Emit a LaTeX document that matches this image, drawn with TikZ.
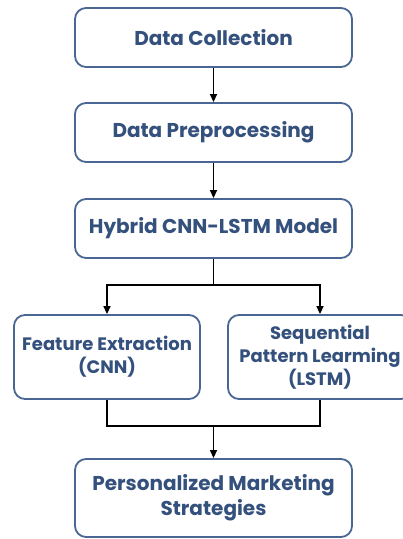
\documentclass[tikz,border=0pt]{standalone}
\usepackage{fontspec}
\setmainfont{Poppins}
\usetikzlibrary{arrows.meta}
\definecolor{boxblue}{HTML}{4A6793}
\definecolor{textblue}{HTML}{34507C}
\begin{document}
\begin{tikzpicture}[x=1pt,y=-1pt,
    stage/.style={draw=boxblue,line width=1.8pt,rounded corners=11pt,fill=white,
      minimum width=277pt,minimum height=59pt,align=center,text=textblue,
      font=\fontsize{20}{25}\selectfont\bfseries},
    branch/.style={stage,minimum width=186pt,minimum height=84pt,
      font=\fontsize{18}{23}\selectfont\bfseries},
    wire/.style={line width=1.3pt},
    link/.style={wire,-{Triangle[length=8pt,width=7pt]}}]
  \useasboundingbox (0,0) rectangle (403,539);
  % main column
  \node[stage] (collect) at (213.5,37.5) {Data Collection};
  \node[stage] (prep) at (213.5,132.5) {Data Preprocessing};
  \node[stage] (model) at (213.5,228.5) {Hybrid CNN-LSTM Model};
  % two branches
  \node[branch] (feat) at (107,357) {Feature Extraction\\(CNN)};
  \node[branch,minimum width=184pt] (seq) at (320,357) {Sequential\\Pattern Learming\\(LSTM)};
  \node[stage,minimum height=78pt] (final) at (213.5,498) {Personalized Marketing\\Strategies};
  \coordinate (split) at (213.5,285);
  \coordinate (join) at (213.5,426);
  % connectors
  \draw[link] (collect) -- (prep);
  \draw[link] (prep) -- (model);
  \draw[wire] (model) -- (split);
  \draw[link] (split) -| (feat);
  \draw[link] (split) -| (seq);
  \draw[wire] (feat) |- (join) -| (seq);
  \draw[link] (join) -- (final);
\end{tikzpicture}
\end{document}
